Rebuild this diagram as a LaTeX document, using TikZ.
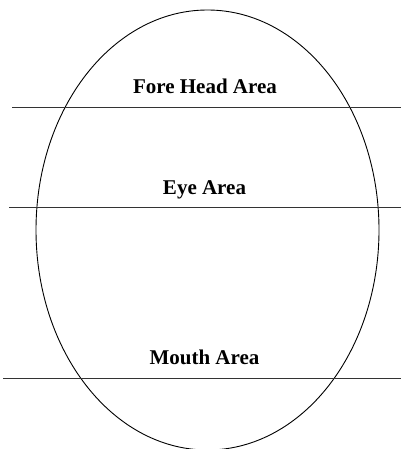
\documentclass[tikz,border=0pt]{standalone}
\usepackage{fontspec}
\setmainfont{Liberation Serif}
\begin{document}
\begin{tikzpicture}[x=1pt,y=-1pt,
  outline/.style={draw=black,line width=0.9pt},
  divider/.style={draw=black!80,line width=0.9pt},
  label/.style={anchor=base,inner sep=0pt,font=\fontsize{21}{25}\selectfont\bfseries}]
\useasboundingbox (0,0) rectangle (401,449);
\clip (0,0) rectangle (401,449);
\fill[white] (0,0) rectangle (401,449);
\draw[outline] (207.5,230) ellipse [x radius=171.5, y radius=220];
\coordinate (l1a) at (12,107);  \coordinate (l1b) at (401,107);
\coordinate (l2a) at (9,207);   \coordinate (l2b) at (401,207);
\coordinate (l3a) at (3,378);   \coordinate (l3b) at (401,378);
\draw[divider] (l1a) -- (l1b);
\draw[divider] (l2a) -- (l2b);
\draw[divider] (l3a) -- (l3b);
\node[label] (fore) at (205,94) {Fore Head Area};
\node[label] (eye) at (204.5,194) {Eye Area};
\node[label] (mouth) at (204.5,364) {Mouth Area};
\end{tikzpicture}
\end{document}
